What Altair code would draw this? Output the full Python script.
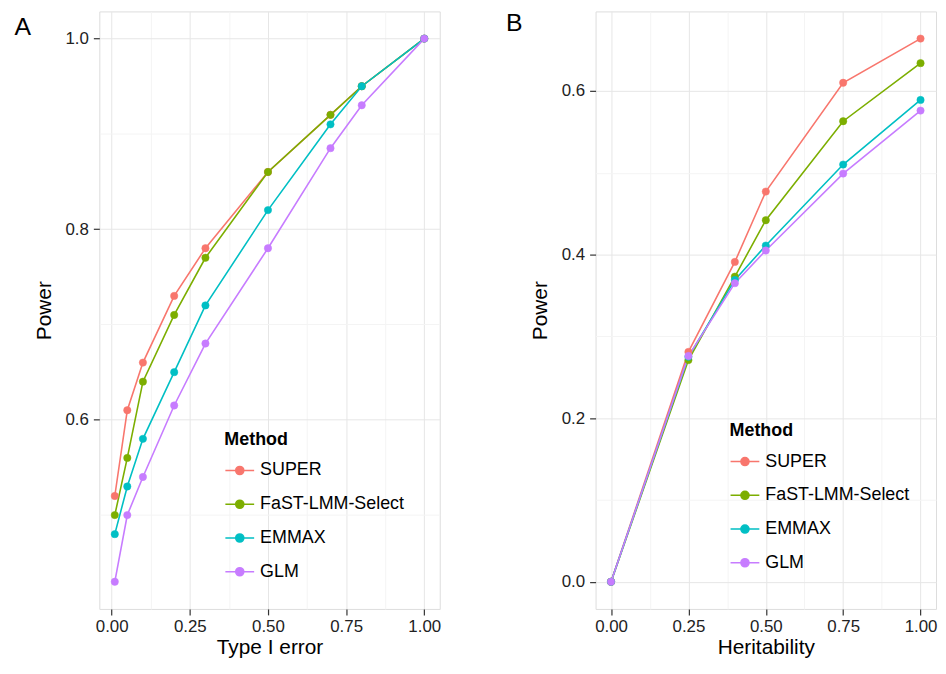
import altair as alt
import pandas as pd

methods = ["SUPER", "FaST-LMM-Select", "EMMAX", "GLM"]
colors = ["#F8766D", "#7CAE00", "#00BFC4", "#C77CFF"]

type1_error = [0.01, 0.05, 0.1, 0.2, 0.3, 0.5, 0.7, 0.8, 1.0]
a_super = [0.52, 0.61, 0.66, 0.73, 0.78, 0.86, 0.92, 0.95, 1.0]
a_fast = [0.50, 0.56, 0.64, 0.71, 0.77, 0.86, 0.92, 0.95, 1.0]
a_emmax = [0.48, 0.53, 0.58, 0.65, 0.72, 0.82, 0.91, 0.95, 1.0]
a_glm = [0.43, 0.50, 0.54, 0.615, 0.68, 0.78, 0.885, 0.93, 1.0]

heritability = [0.0, 0.25, 0.4, 0.5, 0.75, 1.0]
b_super = [0.0, 0.281, 0.391, 0.477, 0.610, 0.664]
b_fast = [0.0, 0.271, 0.373, 0.442, 0.563, 0.634]
b_emmax = [0.0, 0.275, 0.369, 0.411, 0.510, 0.589]
b_glm = [0.0, 0.276, 0.365, 0.405, 0.499, 0.576]

x_ticks = [0.0, 0.125, 0.25, 0.375, 0.5, 0.625, 0.75, 0.875, 1.0]
a_y_ticks = [0.5, 0.6, 0.7, 0.8, 0.9, 1.0]
b_y_ticks = [0.0, 0.1, 0.2, 0.3, 0.4, 0.5, 0.6]


def frame(xs, series):
    rows = []
    for m, ys in zip(methods, series):
        for x, y in zip(xs, ys):
            rows.append({"x": x, "y": y, "Method": m})
    return pd.DataFrame(rows)


df_a = frame(type1_error, [a_super, a_fast, a_emmax, a_glm])
df_b = frame(heritability, [b_super, b_fast, b_emmax, b_glm])

FONT = "Liberation Sans"
sym = "M-1,0L1,0M-0.28,0A0.28,0.28,0,1,0,0.28,0A0.28,0.28,0,1,0,-0.28,0Z"

major_x = "round(datum.value*8)%2==0"
major_y = "round(datum.value*10)%2==0"


def axis(title, values, test, fmt, title_pad, label_pad):
    return alt.Axis(
        title=title,
        values=values,
        labelExpr=f"{test} ? format(datum.value, '{fmt}') : ''",
        tickOpacity={"condition": {"test": test, "value": 1}, "value": 0},
        gridColor={"condition": {"test": test, "value": "#e6e6e6"}, "value": "#f4f4f4"},
        grid=True,
        domain=False,
        tickSize=6,
        tickColor="#333333",
        tickWidth=1.2,
        labelFontSize=17,
        labelColor="#222222",
        labelFont=FONT,
        labelPadding=label_pad,
        labelFlush=False,
        labelOverlap=False,
        titleFont=FONT,
        titleFontSize=21,
        titleFontWeight="normal",
        titleColor="#000000",
        titlePadding=title_pad,
    )


def panel(df, xdom, ydom, xtitle, yvals, yfmt, lx, ly, letter, letter_x, letter_y, width):
    scale_c = alt.Scale(domain=methods, range=colors)
    legend = alt.Legend(
        title="Method",
        orient="none",
        legendX=lx,
        legendY=ly,
        symbolType=sym,
        symbolSize=841,
        symbolStrokeWidth=1.6,
        titleFont=FONT,
        titleFontSize=18,
        titleFontWeight="bold",
        titleColor="#000000",
        titlePadding=6,
        labelFont=FONT,
        labelFontSize=18,
        labelColor="#000000",
        labelOffset=5,
        rowPadding=9,
    )
    x = alt.X("x:Q", scale=alt.Scale(domain=xdom, nice=False, zero=False),
              axis=axis(xtitle, x_ticks, major_x, ".2f", 2, 4))
    y = alt.Y("y:Q", scale=alt.Scale(domain=ydom, nice=False, zero=False),
              axis=axis("Power", yvals, major_y, ".1f", 11, 5))
    lines = alt.Chart(df).mark_line(strokeWidth=1.6).encode(
        x=x, y=y,
        stroke=alt.Stroke("Method:N", scale=scale_c, legend=legend, sort=methods),
        order=alt.Order("x:Q"),
    )
    points = alt.Chart(df).mark_point(filled=True, size=55, opacity=1, strokeWidth=0.5).encode(
        x=x, y=y,
        stroke=alt.Stroke("Method:N", scale=scale_c, legend=legend, sort=methods),
        fill=alt.Fill("Method:N", scale=scale_c, legend=legend, sort=methods),
    )
    lab = alt.Chart(pd.DataFrame({"t": [letter]})).mark_text(
        font=FONT, fontSize=25, align="center", baseline="middle", color="#000000"
    ).encode(text="t:N", x=alt.value(letter_x), y=alt.value(letter_y))
    return alt.layer(lines, points, lab).properties(width=width, height=602)


chart_a = panel(df_a, [-0.0395, 1.0495], [0.4015, 1.0285], "Type I error",
                a_y_ticks, ".1f", 126, 423, "A", -77, 16, 343)
chart_b = panel(df_b, [-0.05, 1.05], [-0.0332, 0.6972], "Heritability",
                b_y_ticks, ".1f", 135, 414, "B", -82, 12, 343)

chart = alt.hconcat(chart_a, chart_b, spacing=64).resolve_scale(
    stroke="independent", fill="independent"
).properties(
    padding={"left": 6, "top": 0, "right": 0, "bottom": 0}
).configure_view(
    stroke="#a6a6a6", strokeWidth=1.2
).configure(background="white")

chart.save("out.html", embed_options={"renderer": "svg", "actions": False})
